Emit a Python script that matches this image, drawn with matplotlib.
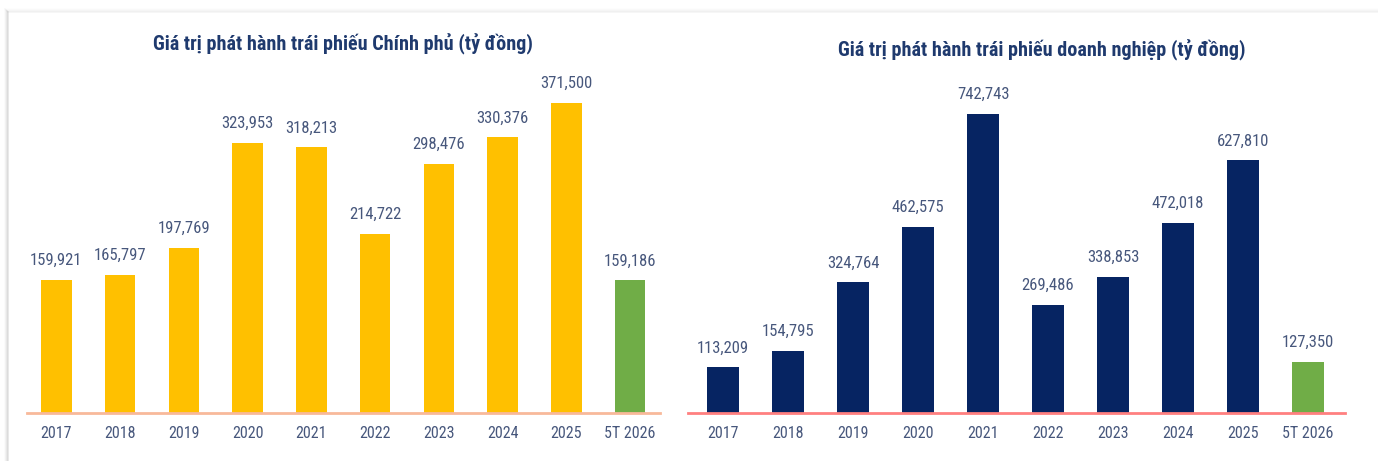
import matplotlib
matplotlib.use("Agg")
import matplotlib.pyplot as plt
from matplotlib.lines import Line2D

categories = ["2017", "2018", "2019", "2020", "2021", "2022", "2023", "2024", "2025", "5T 2026"]
gov_values = [159921, 165797, 197769, 323953, 318213, 214722, 298476, 330376, 371500, 159186]
corp_values = [113209, 154795, 324764, 462575, 742743, 269486, 338853, 472018, 627810, 127350]

gov_title = "Giá trị phát hành trái phiếu Chính phủ (tỷ đồng)"
corp_title = "Giá trị phát hành trái phiếu doanh nghiệp (tỷ đồng)"

YELLOW = "#FFC000"
NAVY = "#062462"
GREEN = "#70AD47"
TITLE_C = "#1F3A6E"
TEXT_C = "#47577C"

plt.rcParams["font.family"] = ["Roboto Condensed", "DejaVu Sans"]

W, H = 1378, 461
fig = plt.figure(figsize=(W / 100, H / 100), dpi=100)
fig.patch.set_facecolor("white")

# card outline with soft shadow
for i, a in enumerate([0.10, 0.07, 0.04, 0.02]):
    fig.add_artist(Line2D([(8 - i) / W, (8 - i) / W], [0, 1 - (12 - i) / H],
                          color="#808080", alpha=a * 2, lw=1.2, transform=fig.transFigure))
    fig.add_artist(Line2D([(8 - i) / W, 1], [1 - (12 - i) / H, 1 - (12 - i) / H],
                          color="#808080", alpha=a * 0.8, lw=1.2, transform=fig.transFigure))


def px_axes(x0, x1, ytop, ybot):
    return fig.add_axes([x0 / W, 1 - ybot / H, (x1 - x0) / W, (ybot - ytop) / H])


def draw(ax, values, color, scale, base_line_color, xlim, width, title, title_xy):
    colors = [color] * (len(values) - 1) + [GREEN]
    x = list(range(len(values)))
    ax.bar(x, values, width=width, color=colors, zorder=2)
    ax.set_xlim(*xlim)
    ax.set_ylim(0, scale)
    for s in ["top", "right", "left"]:
        ax.spines[s].set_visible(False)
    ax.spines["bottom"].set_color(base_line_color)
    ax.spines["bottom"].set_linewidth(2.0)
    ax.spines["bottom"].set_zorder(3)
    ax.set_yticks([])
    ax.set_xticks(x)
    ax.set_xticklabels(categories, fontsize=11.5, color=TEXT_C)
    ax.tick_params(axis="x", length=0, pad=9)
    for xi, v in zip(x, values):
        ax.annotate(f"{v:,}", (xi, v), xytext=(0, 8.5), textcoords="offset points",
                    ha="center", va="bottom", fontsize=12, color=TEXT_C)
    ax.set_facecolor("none")
    fig.text(title_xy[0] / W, 1 - title_xy[1] / H, title, ha="center", va="center",
             fontsize=14.5, fontweight="bold", color=TITLE_C)


ax1 = px_axes(27, 660, 70, 413)
draw(ax1, gov_values, YELLOW, 343 * 371500 / 310, "#F8B99A", (-0.46, 9.47), 0.48,
     gov_title, (343, 44))

ax2 = px_axes(688, 1345, 70, 413)
draw(ax2, corp_values, NAVY, 343 * 742743 / 299, "#FF8080", (-0.54, 9.57), 0.49,
     corp_title, (1042, 50))

fig.savefig("out.png", dpi=100, facecolor="white")
